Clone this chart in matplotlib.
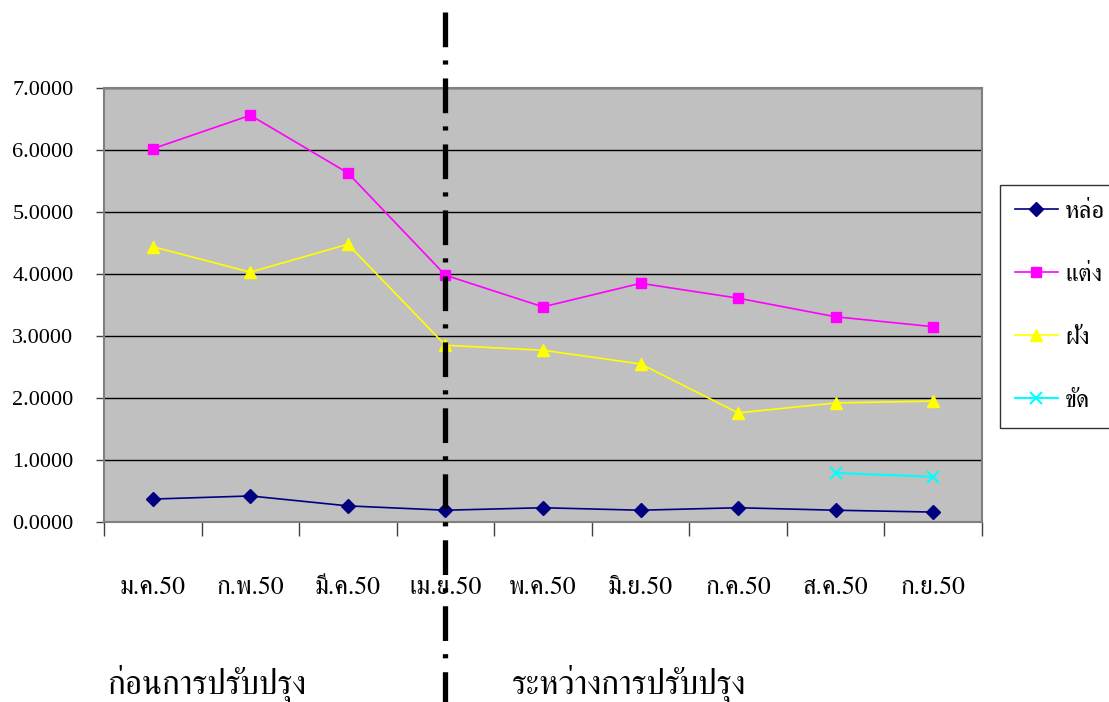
import numpy as np
import matplotlib
matplotlib.use("Agg")
import matplotlib.pyplot as plt
import matplotlib.transforms as mtransforms
from matplotlib.lines import Line2D

plt.rcParams['lines.scale_dashes'] = False

months = ["ม.ค.50", "ก.พ.50", "มี.ค.50", "เม.ย.50", "พ.ค.50",
          "มิ.ย.50", "ก.ค.50", "ส.ค.50", "ก.ย.50"]
lor = [0.37, 0.42, 0.26, 0.19, 0.23, 0.19, 0.23, 0.19, 0.16]
taeng = [6.02, 6.56, 5.63, 3.98, 3.47, 3.85, 3.61, 3.31, 3.15]
fang = [4.44, 4.03, 4.48, 2.85, 2.77, 2.55, 1.76, 1.92, 1.95]
khat = [np.nan] * 7 + [0.79, 0.73]
names = ["หล่อ", "แต่ง", "ฝัง", "ขัด"]

thai = ['FreeSerif', 'DejaVu Sans']
num = ['Liberation Serif', 'DejaVu Serif']

fig = plt.figure(figsize=(11.09, 7.02), dpi=100)
ax = fig.add_axes([104 / 1109, 1 - 522 / 702, 878 / 1109, 434 / 702])
ax.set_facecolor('#C0C0C0')

x = np.arange(len(months))
ax.plot(x, lor, color='#000080', marker='D', ms=7, lw=1.2, label=names[0], zorder=3)
ax.plot(x, taeng, color='#FF00FF', marker='s', ms=7.5, lw=1.2, label=names[1], zorder=3)
ax.plot(x, fang, color='#FFFF00', marker='^', ms=8.5, lw=1.2, label=names[2], zorder=3)
ax.plot(x, khat, color='#00FFFF', marker='x', ms=8, mew=1.5, lw=1.5, label=names[3], zorder=3)

ax.set_xlim(-0.5, 8.5)
ax.set_ylim(0, 7)
ax.set_yticks(np.arange(0, 8, 1))
ax.set_yticklabels(["%.4f" % v for v in np.arange(0, 8, 1)], family=num, fontsize=16)
ax.yaxis.grid(True, color='black', lw=1)
ax.set_axisbelow(True)

ax.set_xticks(np.arange(-0.5, 9, 1))
ax.set_xticklabels([])
ax.set_xticks(x, minor=True)
ax.set_xticklabels(months, minor=True, family=thai, fontsize=18.5)
ax.tick_params(axis='x', which='major', length=10, width=1, color='#404040', direction='out')
ax.tick_params(axis='x', which='minor', length=0, pad=39)
ax.tick_params(axis='y', length=6, width=1, color='#404040', pad=16)

for s in ax.spines.values():
    s.set_color('#808080')
    s.set_linewidth(1.5)

leg = ax.legend(loc='upper left', bbox_to_anchor=(1000 / 1109, 1 - 185 / 702),
                bbox_transform=fig.transFigure, prop={'family': thai, 'size': 18},
                frameon=True, fancybox=False, edgecolor='black', handlelength=1.7,
                labelspacing=1.56, borderpad=0.6, handletextpad=0.3, borderaxespad=0)
leg.get_frame().set_linewidth(1)

# dash-dot divider
trans = mtransforms.blended_transform_factory(ax.transData, fig.transFigure)
div = Line2D([3, 3], [1 - 12 / 702, 0], transform=trans, color='black', lw=3.8,
             dashes=(25, 9.5, 3, 10), solid_capstyle='butt', dash_capstyle='butt',
             clip_on=False, zorder=5)
fig.add_artist(div)

fig.text(107 / 1109, 1 - 684 / 702, "ก่อนการปรับปรุง", family=thai, fontsize=24, va='center')
fig.text(512 / 1109, 1 - 684 / 702, "ระหว่างการปรับปรุง", family=thai, fontsize=24, va='center')

fig.savefig("out.png")
